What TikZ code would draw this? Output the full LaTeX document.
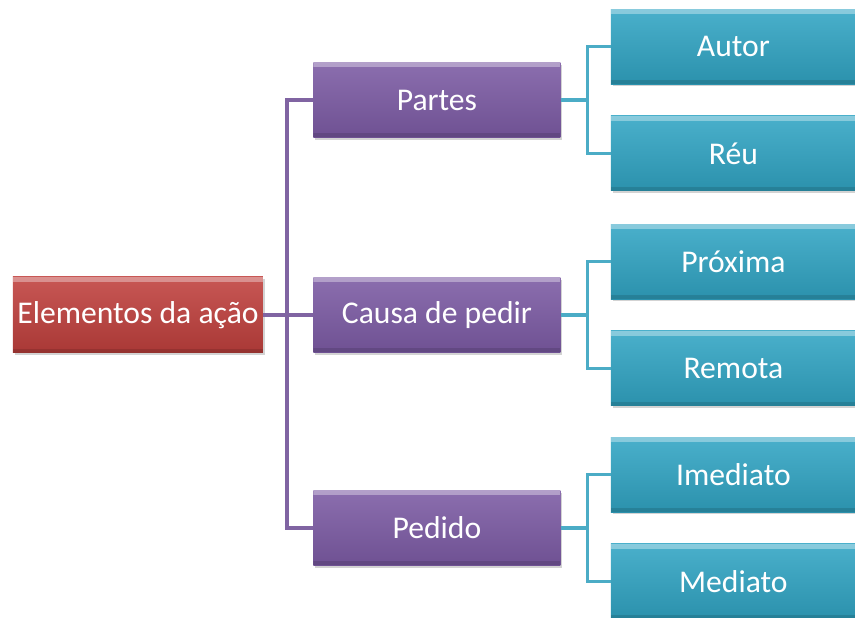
\documentclass[tikz,border=0pt]{standalone}
\usepackage{fontspec}
\setmainfont{Carlito}
\usepackage{tikz}
\usetikzlibrary{positioning}
\usetikzlibrary{shadows}

\definecolor{rootred}{HTML}{C0403D}
\definecolor{branchpurple}{HTML}{7B5AA3}
\definecolor{leafteal}{HTML}{31A5C4}
\definecolor{purpleline}{HTML}{8064A2}
\definecolor{tealline}{HTML}{4BACC6}

\begin{document}
\begin{tikzpicture}[every node/.append style={font=\fontsize{27}{32}\selectfont, text=white},
                    box/.style={rectangle, minimum height=2.25cm, align=center, inner sep=0pt,
                                drop shadow={shadow xshift=0.05cm, shadow yshift=-0.07cm, opacity=0.35},
                                path picture={\fill[white, opacity=0.35] (path picture bounding box.north west) rectangle ([yshift=-0.15cm]path picture bounding box.north east);
                                              \fill[black, opacity=0.12] (path picture bounding box.south west) rectangle ([yshift=0.12cm]path picture bounding box.south east);}},
                    rootbox/.style={box, minimum width=7.5cm, minimum height=2.28cm, top color=rootred!88!white, bottom color=rootred!88!black},
                    branchbox/.style={box, minimum width=7.41cm, top color=branchpurple!88!white, bottom color=branchpurple!90!black},
                    leafbox/.style={box, minimum width=7.35cm, top color=leafteal!88!white, bottom color=leafteal!88!black},
                    purplelink/.style={draw=purpleline, line width=3.4pt},
                    teallink/.style={draw=tealline, line width=3pt},
                    node distance=1.5cm]
    \useasboundingbox (-4.14,-9.09) rectangle (21.51,9.45);

    \node [rootbox] (root) at (0,0) {Elementos da ação};

    \node [branchbox, right=of root] (causa) {Causa de pedir};
    \node [branchbox, right=of root, yshift=6.45cm] (partes) {Partes};
    \node [branchbox, right=of root, yshift=-6.39cm] (pedido) {Pedido};

    \node [leafbox, right=of partes, yshift=1.6cm]  (autor) {Autor};
    \node [leafbox, right=of partes, yshift=-1.6cm] (reu) {Réu};
    \node [leafbox, right=of causa, yshift=1.6cm]   (proxima) {Próxima};
    \node [leafbox, right=of causa, yshift=-1.6cm]  (remota) {Remota};
    \node [leafbox, right=of pedido, yshift=1.6cm]  (imediato) {Imediato};
    \node [leafbox, right=of pedido, yshift=-1.6cm] (mediato) {Mediato};

    % Forks of the connectors
    \coordinate [right=0.72cm of root.east] (rootfork);
    \coordinate [right=0.8cm of partes.east] (partesfork);
    \coordinate [right=0.8cm of causa.east] (causafork);
    \coordinate [right=0.8cm of pedido.east] (pedidofork);

    % Draw the purple lines
    \draw [purplelink] (root.east)   -- (causa.west);
    \draw [purplelink] (partes.west) -| (rootfork) |- (pedido.west);
    % Draw the teal lines
    \draw [teallink] (partes.east) -- (partesfork);
    \draw [teallink] (autor.west)  -| (partesfork) |- (reu.west);
    \draw [teallink] (causa.east)  -- (causafork);
    \draw [teallink] (proxima.west) -| (causafork) |- (remota.west);
    \draw [teallink] (pedido.east) -- (pedidofork);
    \draw [teallink] (imediato.west) -| (pedidofork) |- (mediato.west);
\end{tikzpicture}
\end{document}
